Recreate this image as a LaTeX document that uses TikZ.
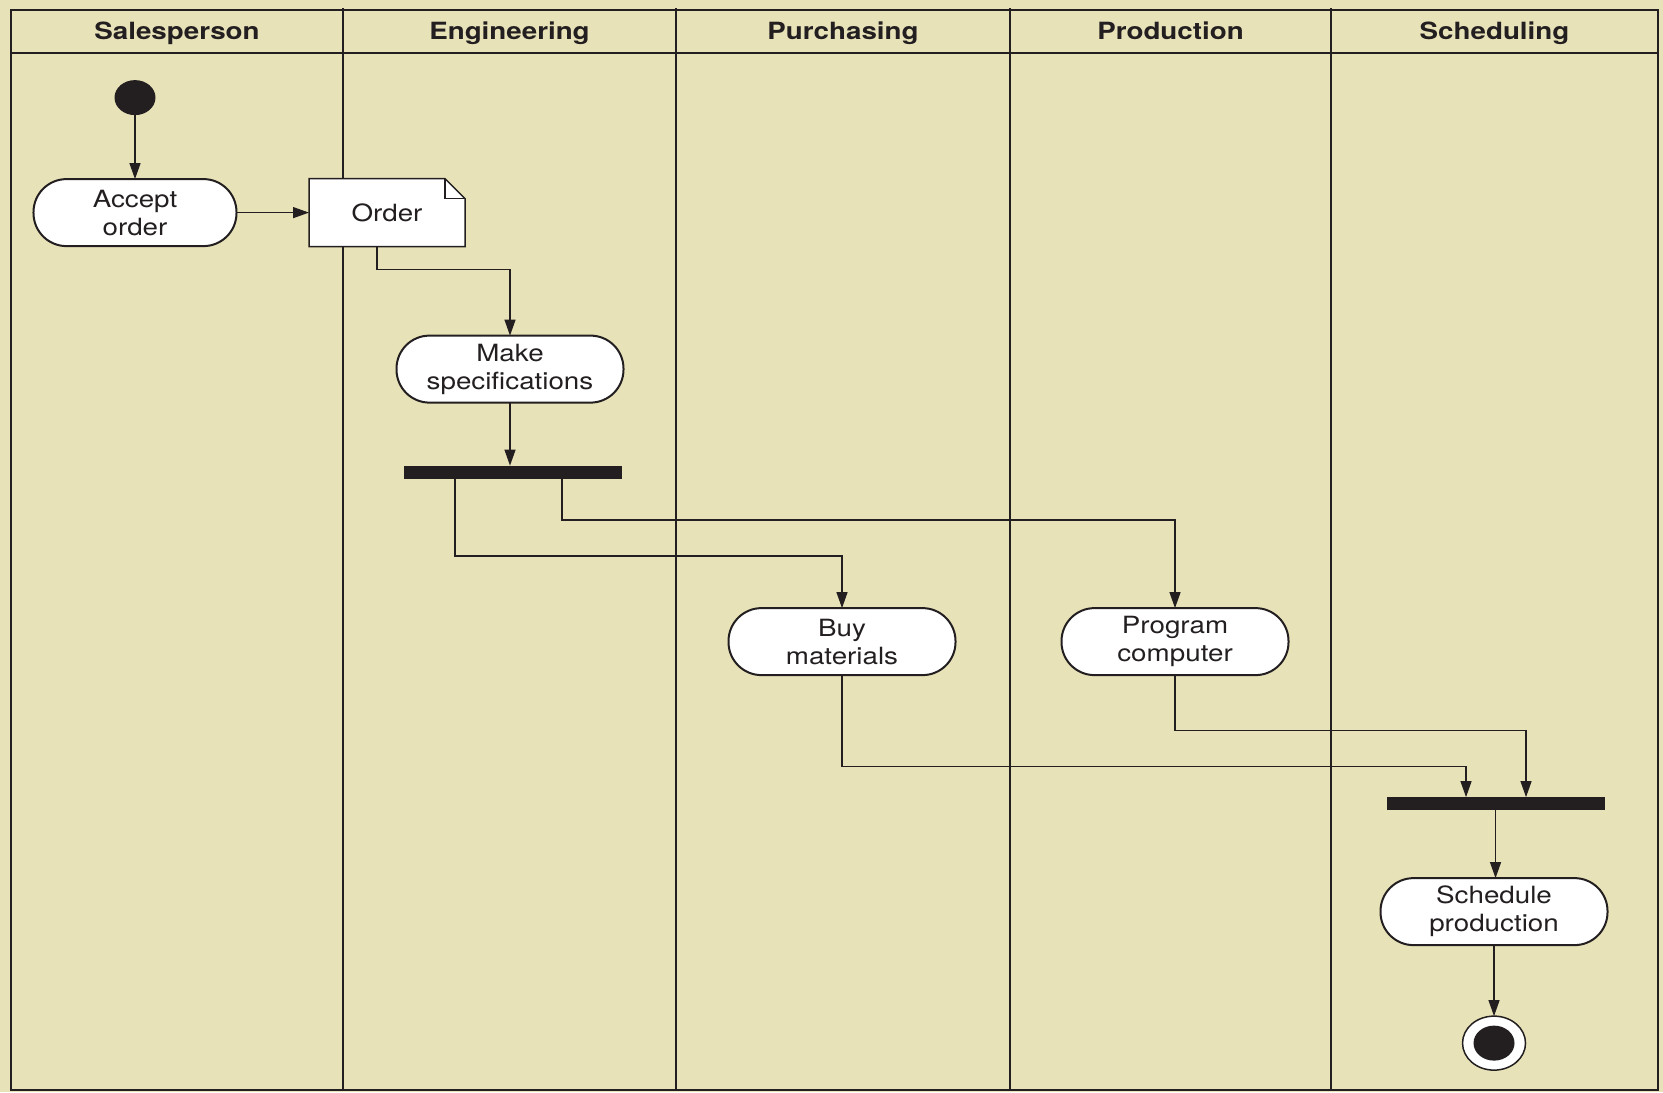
\documentclass[tikz,border=0pt]{standalone}
\usepackage{fontspec}
\setmainfont{TeX Gyre Heros}[FakeStretch=1.17]
\usetikzlibrary{positioning,shapes.geometric,arrows.meta}

\definecolor{lanebg}{RGB}{232,226,185}
\definecolor{ink}{RGB}{35,31,32}

\tikzset{
  frame/.style={draw=ink, line width=0.35mm},
  lane/.style={draw=ink, line width=0.55mm},
  lanehead/.style={anchor=base, font=\bfseries\fontsize{13.5}{16}\selectfont},
  activity/.style={draw=ink, fill=white, line width=0.4mm, rounded corners=6.6mm,
    minimum width=45.4mm, minimum height=13.4mm, inner sep=0pt, outer sep=0pt,
    align=center, font=\fontsize{13.5}{16}\selectfont},
  notebox/.style={fill=white, minimum width=31.2mm, minimum height=13.6mm,
    inner sep=0pt, outer sep=0pt, font=\fontsize{13.5}{16}\selectfont},
  noteline/.style={draw=ink, line width=0.3mm},
  syncbar/.style={fill=ink, minimum width=43.6mm, minimum height=2.6mm, inner sep=0pt, outer sep=0pt},
  startdot/.style={ellipse, fill=ink, minimum width=8.2mm, minimum height=7mm, inner sep=0pt, outer sep=0pt},
  endring/.style={ellipse, draw=ink, fill=white, line width=0.3mm, minimum width=12.6mm,
    minimum height=10.8mm, inner sep=0pt, outer sep=0pt},
  flow/.style={draw=ink, line width=0.26mm, -{Triangle[length=3.2mm,width=2.2mm]}},
}

\begin{document}
\begin{tikzpicture}[x=0.2mm, y=-0.2mm, every node/.style={text=ink}]

% lanes
\fill[lanebg] (0,0) rectangle (1663,1092);
\draw[frame] (11,10) rectangle (1658,1090);
\draw[frame] (11,53) -- (1658,53);
\draw[lane] (343,8) -- (343,1090);
\draw[lane] (676,8) -- (676,1090);
\draw[lane] (1010,8) -- (1010,1090);
\draw[lane] (1331,8) -- (1331,1090);

\node[lanehead] (hsales) at (177,39.5) {Salesperson};
\node[lanehead] (heng) at (509.5,39.5) {Engineering};
\node[lanehead] (hpurch) at (843,39.5) {Purchasing};
\node[lanehead] (hprod) at (1170.5,39.5) {Production};
\node[lanehead] (hsched) at (1494.5,39.5) {Scheduling};


\node[startdot] (start) at (135,97.6) {};
\node[activity, minimum width=40.6mm, below=12.8mm of start] (accept) {Accept\\order};
\node[notebox, right=14.5mm of accept] (order) {Order};   %object flow
\coordinate (ordne) at (order.east |- order.north);
\coordinate (folda) at ([xshift=-4mm]ordne);
\coordinate (foldb) at ([yshift=-4mm]ordne);

\node[activity, below=17.8mm of order, xshift=24.6mm] (make) {Make\\specifications};
\node[syncbar, below=12.6mm of make, xshift=0.6mm] (fork) {};   %fork

\node[activity, below=25.9mm of fork, xshift=65.8mm] (buy) {Buy\\materials};
\node[activity, right=21.2mm of buy] (prog) {Program\\computer};

\node[syncbar, below=24.4mm of prog, xshift=64.1mm] (join) {};   %join
\node[activity, below=13.6mm of join, xshift=-0.3mm] (sched) {Schedule\\production};

\node[endring, below=14.2mm of sched] (end) {};
\node[startdot] (endin) at (end.center) {};


% note corner
\fill[lanebg] (folda) -- (ordne) -- (foldb) -- cycle;
\draw[noteline] (order.south west) -- (order.north west) -- (folda) -- (foldb) -- (order.south east) -- cycle;
\draw[noteline] (folda) |- (foldb);

\draw[flow] (start) -- (accept);
\draw[flow] (accept) -- (order);
\draw[flow] ([xshift=-2mm]order.south) -- ++(0mm,-4.6mm) -| (make.north);
\draw[flow] (make) -- (make.south |- fork.north);

\draw[flow] ([xshift=-11.6mm]fork.south) -- ++(0mm,-15.5mm) -| (buy.north);
\draw[flow] ([xshift=9.8mm]fork.south) -- ++(0mm,-8.3mm) -| (prog.north);

\draw[flow] (buy.south) -- ++(0mm,-18.3mm) -| ([xshift=-5.9mm]join.north);
\draw[flow] (prog.south) -- ++(0mm,-11.1mm) -| ([xshift=6.1mm]join.north);

\draw[flow] (join) -- (join.south |- sched.north);
\draw[flow] (sched) -- (end);

\end{tikzpicture}
\end{document}
